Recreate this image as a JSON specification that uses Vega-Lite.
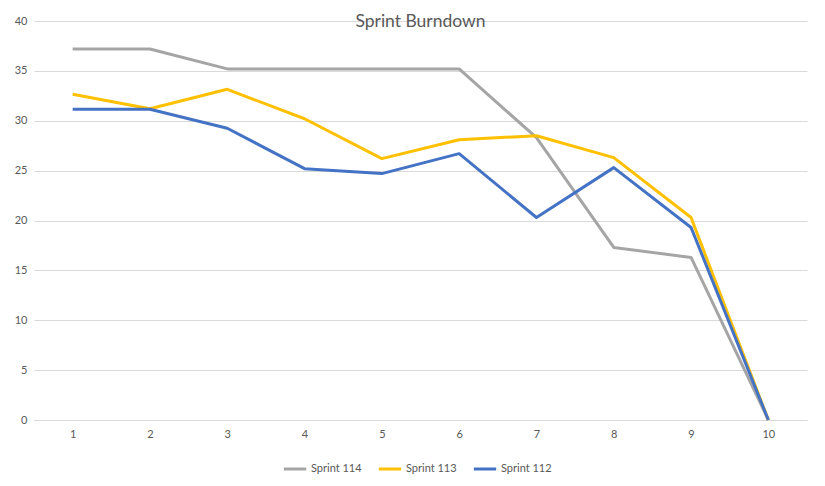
{
  "$schema": "https://vega.github.io/schema/vega-lite/v6.json",
  "autosize": "none",
  "width": 773,
  "height": 399,
  "padding": {"left": 34, "top": 21, "right": 18, "bottom": 66},
  "background": "white",
  "title": {
    "text": "Sprint Burndown",
    "offset": -15,
    "fontSize": 17.5,
    "font": "Lato",
    "fontWeight": "normal",
    "color": "#595959",
    "anchor": "middle"
  },
  "data": {
    "values": [
      {"day": "1", "series": "Sprint 114", "points": 37.2},
      {"day": "2", "series": "Sprint 114", "points": 37.2},
      {"day": "3", "series": "Sprint 114", "points": 35.2},
      {"day": "4", "series": "Sprint 114", "points": 35.2},
      {"day": "5", "series": "Sprint 114", "points": 35.2},
      {"day": "6", "series": "Sprint 114", "points": 35.2},
      {"day": "7", "series": "Sprint 114", "points": 28.3},
      {"day": "8", "series": "Sprint 114", "points": 17.3},
      {"day": "9", "series": "Sprint 114", "points": 16.3},
      {"day": "10", "series": "Sprint 114", "points": 0},
      {"day": "1", "series": "Sprint 113", "points": 32.65},
      {"day": "2", "series": "Sprint 113", "points": 31.2},
      {"day": "3", "series": "Sprint 113", "points": 33.15},
      {"day": "4", "series": "Sprint 113", "points": 30.2},
      {"day": "5", "series": "Sprint 113", "points": 26.2},
      {"day": "6", "series": "Sprint 113", "points": 28.1},
      {"day": "7", "series": "Sprint 113", "points": 28.5},
      {"day": "8", "series": "Sprint 113", "points": 26.3},
      {"day": "9", "series": "Sprint 113", "points": 20.3},
      {"day": "10", "series": "Sprint 113", "points": 0},
      {"day": "1", "series": "Sprint 112", "points": 31.15},
      {"day": "2", "series": "Sprint 112", "points": 31.15},
      {"day": "3", "series": "Sprint 112", "points": 29.25},
      {"day": "4", "series": "Sprint 112", "points": 25.2},
      {"day": "5", "series": "Sprint 112", "points": 24.7},
      {"day": "6", "series": "Sprint 112", "points": 26.7},
      {"day": "7", "series": "Sprint 112", "points": 20.3},
      {"day": "8", "series": "Sprint 112", "points": 25.3},
      {"day": "9", "series": "Sprint 112", "points": 19.3},
      {"day": "10", "series": "Sprint 112", "points": 0}
    ]
  },
  "mark": {"type": "line", "strokeWidth": 3, "strokeJoin": "round"},
  "encoding": {
    "x": {
      "field": "day",
      "type": "ordinal",
      "sort": null,
      "scale": {"type": "point", "padding": 0.5},
      "axis": {
        "title": null,
        "labelAngle": 0,
        "ticks": false,
        "domainColor": "#D9D9D9",
        "domainWidth": 1,
        "labelColor": "#595959",
        "labelFont": "Lato",
        "labelFontSize": 11,
        "labelPadding": 8,
        "grid": false
      }
    },
    "y": {
      "field": "points",
      "type": "quantitative",
      "scale": {"domain": [0, 40], "nice": false},
      "axis": {
        "title": null,
        "values": [0, 5, 10, 15, 20, 25, 30, 35, 40],
        "ticks": false,
        "domain": false,
        "gridColor": "#D9D9D9",
        "gridWidth": 1,
        "labelColor": "#595959",
        "labelFont": "Lato",
        "labelFontSize": 11,
        "labelPadding": 7
      }
    },
    "color": {
      "field": "series",
      "type": "nominal",
      "sort": ["Sprint 114", "Sprint 113", "Sprint 112"],
      "scale": {
        "domain": ["Sprint 114", "Sprint 113", "Sprint 112"],
        "range": ["#A5A5A5", "#FFC000", "#4472C4"]
      },
      "legend": {
        "orient": "none",
        "legendX": 248,
        "legendY": 435,
        "direction": "horizontal",
        "title": null,
        "symbolType": "stroke",
        "symbolStrokeWidth": 3,
        "symbolSize": 500,
        "labelColor": "#595959",
        "labelFont": "Lato",
        "labelFontSize": 11,
        "labelOffset": 3,
        "columnPadding": 10
      }
    }
  },
  "config": {
    "view": {"stroke": null}
  }
}
